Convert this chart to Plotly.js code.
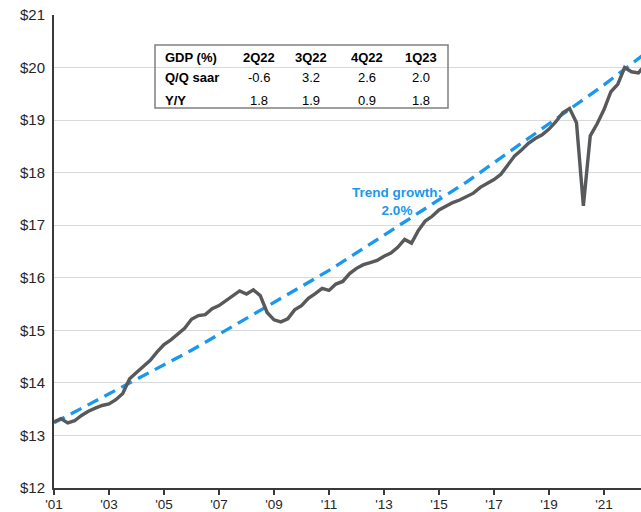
<!DOCTYPE html>
<html>
<head>
<meta charset="utf-8">
<script src="https://cdn.plot.ly/plotly-3.0.1.min.js"></script>
<style>html,body{margin:0;padding:0;background:#fff;}#chart{width:641px;height:512px;}</style>
</head>
<body>
<div id="chart"></div>
<script>
// ---- data ----
const firstYear = 2001; // series starts 1Q01, quarterly
const gdpTrillions = [
  13.26, 13.32, 13.24, 13.28, 13.38, 13.46, 13.52, 13.57, 13.60, 13.68,
  13.80, 14.08, 14.20, 14.31, 14.43, 14.59, 14.73, 14.82, 14.92, 15.04,
  15.21, 15.28, 15.30, 15.41, 15.47, 15.56, 15.66, 15.75, 15.69, 15.77,
  15.66, 15.34, 15.20, 15.16, 15.22, 15.39, 15.47, 15.61, 15.70, 15.80,
  15.76, 15.88, 15.93, 16.08, 16.18, 16.25, 16.29, 16.33, 16.41, 16.47,
  16.58, 16.73, 16.66, 16.90, 17.08, 17.17, 17.29, 17.36, 17.43, 17.48,
  17.55, 17.61, 17.72, 17.80, 17.87, 17.97, 18.14, 18.32, 18.43, 18.56,
  18.65, 18.72, 18.83, 18.97, 19.14, 19.22, 18.95, 17.37, 18.70, 18.93,
  19.20, 19.54, 19.68, 20.00, 19.92, 19.90, 20.05, 20.18, 20.28
];
const trendYears = [2001, 2006, 2011, 2016, 2021, 2023];
const trendValues = [13.24, 14.62, 16.14, 17.82, 19.67, 20.47];
const trendLabel = 'Trend growth:<br>2.0%';
const tickYears = [2001, 2003, 2005, 2007, 2009, 2011, 2013, 2015, 2017, 2019, 2021];
const tickLabels = ["'01", "'03", "'05", "'07", "'09", "'11", "'13", "'15", "'17", "'19", "'21"];
const tableHeader = 'GDP (%)';
const tableCols = ['2Q22', '3Q22', '4Q22', '1Q23'];
const tableRowLabels = ['Q/Q saar', 'Y/Y'];
const qoqSaar = [-0.6, 3.2, 2.6, 2.0];
const yoy = [1.8, 1.9, 0.9, 1.8];

// ---- geometry helpers (pixel -> paper) ----
const L = 54, R = 641, T = 15, B = 488;
const px = x => (x - L) / (R - L);
const py = y => (B - y) / (B - T);

const gdpX = gdpTrillions.map((_, i) => firstYear + i / 4);

const FONT = 'Liberation Sans, Arial, sans-serif';
const traces = [
  {x: trendYears, y: trendValues, type: 'scatter', mode: 'lines',
   line: {color: '#1A98EE', width: 3.3, dash: '12px,7px'}, hoverinfo: 'skip'},
  {x: gdpX, y: gdpTrillions, type: 'scatter', mode: 'lines',
   line: {color: '#58595B', width: 3.4}, hoverinfo: 'skip'}
];

const annotations = [];
const colX = [259, 311, 367, 421];
const rowY = [57, 78, 100];
annotations.push({xref: 'paper', yref: 'paper', x: px(163), y: py(rowY[0]), xanchor: 'left', yanchor: 'middle',
  text: '<b>' + tableHeader + '</b>', showarrow: false, font: {family: FONT, size: 13, color: '#000'}});
tableCols.forEach((c, j) => annotations.push({xref: 'paper', yref: 'paper', x: px(colX[j]), y: py(rowY[0]),
  xanchor: 'center', yanchor: 'middle', text: '<b>' + c + '</b>', showarrow: false,
  font: {family: FONT, size: 13, color: '#000'}}));
[qoqSaar, yoy].forEach((row, r) => {
  annotations.push({xref: 'paper', yref: 'paper', x: px(163), y: py(rowY[r + 1]), xanchor: 'left', yanchor: 'middle',
    text: '<b>' + tableRowLabels[r] + '</b>', showarrow: false, font: {family: FONT, size: 13, color: '#000'}});
  row.forEach((v, j) => annotations.push({xref: 'paper', yref: 'paper', x: px(colX[j]), y: py(rowY[r + 1]),
    xanchor: 'center', yanchor: 'middle', text: v.toFixed(1), showarrow: false,
    font: {family: FONT, size: 13, color: '#000'}}));
});
annotations.push({xref: 'paper', yref: 'paper', x: px(397), y: py(201), xanchor: 'center', yanchor: 'middle',
  text: '<b>' + trendLabel + '</b>', showarrow: false, align: 'center',
  font: {family: FONT, size: 13.5, color: '#1A98EE'}});

const layout = {
  width: 641, height: 512,
  margin: {l: L, r: 641 - R, t: T, b: 512 - B},
  paper_bgcolor: '#fff', plot_bgcolor: '#fff',
  showlegend: false,
  font: {family: FONT, size: 14, color: '#262626'},
  xaxis: {
    range: [2001, 2001 + (R - L) / 27.5],
    tickvals: tickYears, ticktext: tickLabels,
    showgrid: false, zeroline: false,
    showline: true, linecolor: '#3A3A3A', linewidth: 2,
    ticks: 'outside', ticklen: 5, tickwidth: 1.5, tickcolor: '#3A3A3A',
    ticklabelstandoff: -2,
    tickfont: {family: FONT, size: 13.5, color: '#262626'}
  },
  yaxis: {
    range: [12, 21], dtick: 1, tickprefix: '$',
    showgrid: true, gridcolor: '#D9D9D9', gridwidth: 1,
    zeroline: false, showline: true, linecolor: '#3A3A3A', linewidth: 2,
    ticks: '', ticklabelstandoff: 4,
    tickfont: {family: FONT, size: 15, color: '#262626'}
  },
  shapes: [{type: 'rect', xref: 'paper', yref: 'paper', x0: px(155), x1: px(448), y0: py(108), y1: py(45),
    line: {color: '#808080', width: 1.5}, fillcolor: 'rgba(0,0,0,0)'}],
  annotations: annotations
};

Plotly.newPlot('chart', traces, layout, {staticPlot: true, displayModeBar: false});
</script>
</body>
</html>
